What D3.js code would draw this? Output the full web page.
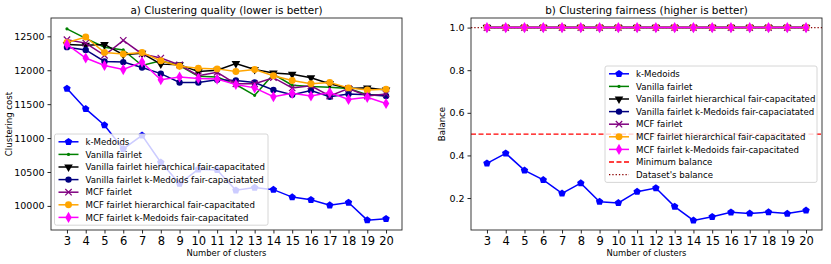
<!DOCTYPE html>
<html lang="en">
<head>
<meta charset="UTF-8">
<title>Clustering quality and fairness</title>
<script src="https://d3js.org/d3.v7.min.js"></script>
<style>
  body { margin: 0; background: #fff; }
  text { font-family: "DejaVu Sans", sans-serif; fill: #000; }
</style>
</head>
<body>
<script>
// Data
const clusters = [3, 4, 5, 6, 7, 8, 9, 10, 11, 12, 13, 14, 15, 16, 17, 18, 19, 20];

const costKMedoids = [11730, 11430, 11190, 10840, 11040, 10640, 10330, 10540, 10530, 10230, 10270, 10240, 10130, 10090, 10010, 10050, 9790, 9810];
const costVanilla = [12610, 12470, 12340, 12300, 12070, 12140, 12070, 11910, 11900, 11790, 11630, 11940, 11780, 11760, 11750, 11730, 11640, 11640];
const costVanillaHier = [12380, 12370, 12380, 12230, 12250, 12090, 12080, 11980, 12000, 12100, 12010, 11960, 11940, 11890, 11800, 11730, 11740, 11710];
const costVanillaKMed = [12340, 12300, 12130, 12120, 12040, 11950, 11820, 11820, 11860, 11850, 11820, 11710, 11640, 11700, 11610, 11650, 11640, 11620];
const costMcf = [12450, 12400, 12220, 12440, 12240, 12180, 12080, 11920, 11970, 11800, 11800, 11890, 11740, 11770, 11620, 11730, 11620, 11650];
const costMcfHier = [12410, 12490, 12260, 12240, 12260, 12140, 12060, 12030, 12020, 11980, 12010, 11920, 11850, 11800, 11820, 11740, 11710, 11720];
const costMcfKMed = [12380, 12180, 12070, 12010, 12120, 11860, 11900, 11880, 11870, 11790, 11740, 11610, 11660, 11620, 11670, 11570, 11600, 11510];

const balKMedoids = [0.363, 0.41, 0.33, 0.285, 0.222, 0.27, 0.183, 0.177, 0.23, 0.247, 0.16, 0.095, 0.112, 0.133, 0.128, 0.134, 0.127, 0.142];
const balFair = clusters.map(() => 1.0);   // every fairlet method reaches balance 1
const minBalance = 0.5;
const datasetBalance = 1.0;

const costTicks = [10000, 10500, 11000, 11500, 12000, 12500];
const balTicks = [0.2, 0.4, 0.6, 0.8, 1.0];

const seriesNames = [
  'k-Medoids', 'Vanilla fairlet', 'Vanilla fairlet hierarchical fair-capacitated',
  'Vanilla fairlet k-Medoids fair-capaciatated', 'MCF fairlet',
  'MCF fairlet hierarchical fair-capacitated', 'MCF fairlet k-Medoids fair-capacitated'
];

// custom pentagon marker
const symbolPentagon = {
  draw(ctx, size) {
    const r = Math.sqrt(size / 2.378);
    for (let i = 0; i < 5; i++) {
      const a = -Math.PI / 2 + i * 2 * Math.PI / 5;
      const x = r * Math.cos(a), y = r * Math.sin(a);
      i ? ctx.lineTo(x, y) : ctx.moveTo(x, y);
    }
    ctx.closePath();
  }
};

const styles = [
  { color: '#0000ff', type: symbolPentagon, size: 36, rot: 0 },
  { color: '#008000', type: d3.symbolCircle, size: 8, rot: 0 },
  { color: '#000000', type: d3.symbolTriangle, size: 32, rot: 180 },
  { color: '#000080', type: d3.symbolCircle, size: 32, rot: 0 },
  { color: '#800080', type: 'x', size: 0, rot: 0 },
  { color: '#ffa500', type: d3.symbolCircle, size: 38, rot: 0 },
  { color: '#ff00ff', type: d3.symbolDiamond, size: 36, rot: 0 }
];

const svg = d3.select('body').append('svg')
  .attr('width', 831).attr('height', 264);

function marker(g, st, x, y) {
  if (st.type === 'x') {
    g.append('path')
      .attr('d', `M${x - 3.2},${y - 3.2}L${x + 3.2},${y + 3.2}M${x - 3.2},${y + 3.2}L${x + 3.2},${y - 3.2}`)
      .attr('stroke', st.color).attr('stroke-width', 1.2).attr('fill', 'none');
  } else {
    g.append('path')
      .attr('d', d3.symbol().type(st.type).size(st.size)())
      .attr('transform', `translate(${x},${y}) rotate(${st.rot})`)
      .attr('fill', st.color);
  }
}

function panel(opt) {
  const g = svg.append('g');
  const x = d3.scaleLinear().domain([2.15, 20.85]).range([opt.left, opt.right]);
  const y = d3.scaleLinear().domain(opt.domain).range([230, 18]);

  const line = d3.line().x((d, i) => x(clusters[i])).y(d => y(d));

  // horizontal reference lines
  (opt.hlines || []).forEach(h => {
    g.append('line')
      .attr('x1', opt.left).attr('x2', opt.right)
      .attr('y1', y(h.v)).attr('y2', y(h.v))
      .attr('stroke', h.color).attr('stroke-width', 1.3)
      .attr('stroke-dasharray', h.dash);
  });

  opt.series.forEach((vals, s) => {
    const st = styles[s];
    g.append('path').attr('d', line(vals))
      .attr('fill', 'none').attr('stroke', st.color).attr('stroke-width', 1.5);
    vals.forEach((v, i) => marker(g, st, x(clusters[i]), y(v)));
  });

  // frame
  g.append('rect')
    .attr('x', opt.left).attr('y', 18)
    .attr('width', opt.right - opt.left).attr('height', 212)
    .attr('fill', 'none').attr('stroke', '#262626').attr('stroke-width', 0.9);

  const xAxis = g.append('g').attr('transform', 'translate(0,230)')
    .call(d3.axisBottom(x).tickValues(clusters).tickSize(3.5).tickPadding(3).tickFormat(d3.format('d')));
  xAxis.select('.domain').remove();
  xAxis.selectAll('text').style('font-size', '11.5px').style('font-family', '"DejaVu Sans", sans-serif');

  const yAxis = g.append('g').attr('transform', `translate(${opt.left},0)`)
    .call(d3.axisLeft(y).tickValues(opt.ticks).tickSize(3.5).tickPadding(3).tickFormat(opt.fmt));
  yAxis.select('.domain').remove();
  yAxis.selectAll('text').style('font-size', '9.5px').style('font-family', '"DejaVu Sans", sans-serif');
  g.selectAll('.tick line').attr('stroke', '#262626');

  g.append('text')
    .attr('x', (opt.left + opt.right) / 2).attr('y', 14)
    .attr('text-anchor', 'middle').style('font-size', '10.4px')
    .text(opt.title);

  g.append('text')
    .attr('x', (opt.left + opt.right) / 2).attr('y', 256)
    .attr('text-anchor', 'middle').style('font-size', '8.4px')
    .text('Number of clusters');

  g.append('text')
    .attr('transform', `translate(${opt.ylabelX},124) rotate(-90)`)
    .attr('text-anchor', 'middle').style('font-size', '8.6px')
    .text(opt.ylabel);

  // legend
  const L = opt.legend;
  const rowH = 12.6;
  const items = seriesNames.map((n, i) => ({ name: n, st: styles[i] })).concat(L.extra || []);
  const lg = g.append('g');
  lg.append('rect')
    .attr('x', L.x).attr('y', L.y).attr('width', L.w).attr('height', items.length * rowH + 3)
    .attr('rx', 2).attr('fill', 'rgba(255,255,255,0.8)')
    .attr('stroke', '#cccccc').attr('stroke-width', 0.8);
  items.forEach((it, i) => {
    const cy = L.y + 7.8 + i * rowH;
    if (it.st) {
      lg.append('line').attr('x1', L.x + 4).attr('x2', L.x + 24).attr('y1', cy).attr('y2', cy)
        .attr('stroke', it.st.color).attr('stroke-width', 1.5);
      marker(lg, it.st, L.x + 14, cy);
    } else {
      lg.append('line').attr('x1', L.x + 4).attr('x2', L.x + 24).attr('y1', cy).attr('y2', cy)
        .attr('stroke', it.color).attr('stroke-width', 1.3).attr('stroke-dasharray', it.dash);
    }
    lg.append('text').attr('x', L.x + 31).attr('y', cy + 3.1)
      .style('font-size', '8.6px').text(it.name);
  });
}

panel({
  left: 51, right: 402,
  domain: [9645, 12770],
  ticks: costTicks, fmt: d3.format('d'),
  series: [costKMedoids, costVanilla, costVanillaHier, costVanillaKMed, costMcf, costMcfHier, costMcfKMed],
  title: 'a) Clustering quality (lower is better)',
  ylabel: 'Clustering cost', ylabelX: 12,
  legend: { x: 54.5, y: 134, w: 213.5 }
});

panel({
  left: 471, right: 822,
  domain: [0.05, 1.045],
  ticks: balTicks, fmt: d3.format('.1f'),
  hlines: [
    { v: minBalance, color: '#ff0000', dash: '5,2.5' },
    { v: datasetBalance, color: '#8b0000', dash: '1.3,2' }
  ],
  series: [balKMedoids, balFair, balFair, balFair, balFair, balFair, balFair],
  title: 'b) Clustering fairness (higher is better)',
  ylabel: 'Balance', ylabelX: 445,
  legend: {
    x: 605, y: 66, w: 212,
    extra: [
      { name: 'Minimum balance', color: '#ff0000', dash: '5,2.5' },
      { name: "Dataset's balance", color: '#8b0000', dash: '1.3,2' }
    ]
  }
});
</script>
</body>
</html>
